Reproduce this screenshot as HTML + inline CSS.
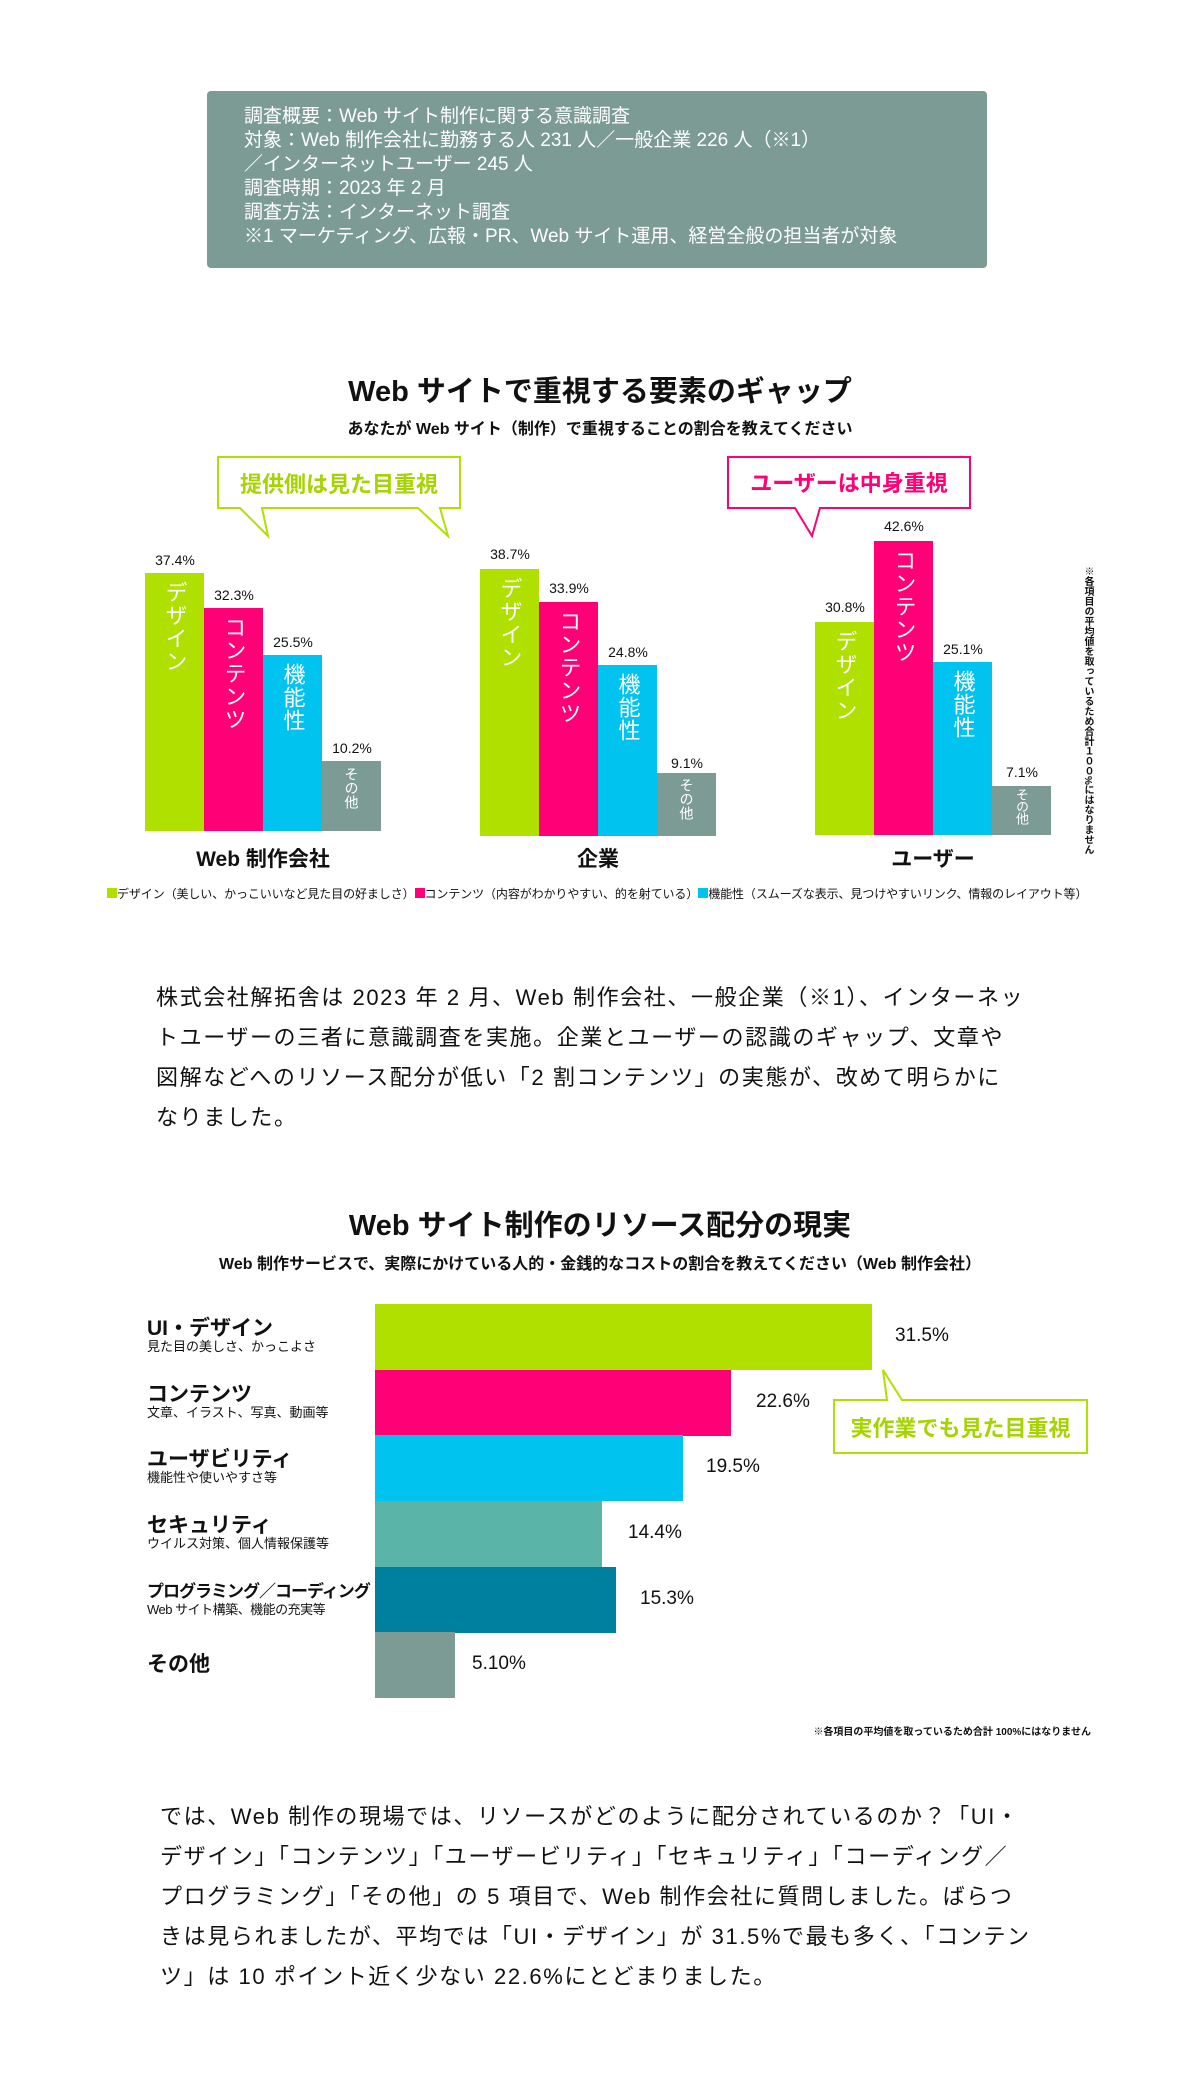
<!DOCTYPE html>
<html><head><meta charset="utf-8"><style>
body{margin:0;width:1200px;height:2086px;background:#fff;position:relative;font-family:"Liberation Sans","Noto Sans CJK JP",sans-serif;color:#111;overflow:hidden}
.a{position:absolute}
.box{left:207px;top:91px;width:780px;height:177px;background:#7b9b94;border-radius:4px;color:#fff;font-size:19px;line-height:24px;box-sizing:border-box;padding:14px 0 0 37px}
.t{left:0;width:1200px;text-align:center;font-weight:bold}
.bar{position:absolute;color:#fff;writing-mode:vertical-rl;text-orientation:upright;font-size:22px;display:flex;align-items:center;padding-top:8px;box-sizing:border-box;letter-spacing:1px;white-space:nowrap}
.v{position:absolute;font-size:14px;text-align:center;width:70px}
.g{background:#b0e000}.p{background:#ff0077}.c{background:#00c4ef}.o{background:#7b9b94}
.para{left:156px;font-size:22px;line-height:40px;white-space:nowrap;letter-spacing:1.6px}
.hb{position:absolute;left:375px;height:66px}
.hv{position:absolute;font-size:19px}
.lab{position:absolute;left:147px;font-size:21px;font-weight:bold;line-height:22px;white-space:nowrap}
.lab small{display:block;font-size:13px;font-weight:normal;line-height:14px}
</style></head><body>
<div class="a box">調査概要：Web サイト制作に関する意識調査<br>対象：Web 制作会社に勤務する人 231 人／一般企業 226 人（※1）<br>／インターネットユーザー 245 人<br>調査時期：2023 年 2 月<br>調査方法：インターネット調査<br>※1 マーケティング、広報・PR、Web サイト運用、経営全般の担当者が対象</div>

<div class="a t" style="top:368px;font-size:29px">Web サイトで重視する要素のギャップ</div>
<div class="a t" style="top:415px;font-size:16px">あなたが Web サイト（制作）で重視することの割合を教えてください</div>

<svg class="a" style="left:0;top:0" width="1200" height="560">
<path d="M218 457 H460 V508 H440 L448 536 L418 508 H262 L268 536 L240 508 H218 Z" fill="#fff" stroke="#b0e000" stroke-width="2"/>
<path d="M728 457 H970 V508 H820 L812 536 L795 508 H728 Z" fill="#fff" stroke="#ff0077" stroke-width="2"/>
</svg>
<div class="a" style="left:218px;top:467px;width:242px;text-align:center;font-weight:bold;font-size:22px;color:#a6d400">提供側は見た目重視</div>
<div class="a" style="left:728px;top:466px;width:242px;text-align:center;font-weight:bold;font-size:22px;color:#ff0077">ユーザーは中身重視</div>

<div class="bar g" style="left:145px;top:573px;width:59px;height:258px">デザイン</div>
<div class="bar p" style="left:204px;top:608px;width:59px;height:223px">コンテンツ</div>
<div class="bar c" style="left:263px;top:655px;width:59px;height:176px">機能性</div>
<div class="bar o" style="left:322px;top:761px;width:59px;height:70px;font-size:14px;padding-top:6px;letter-spacing:0">その他</div>
<div class="v" style="left:140px;top:552px">37.4%</div>
<div class="v" style="left:199px;top:587px">32.3%</div>
<div class="v" style="left:258px;top:634px">25.5%</div>
<div class="v" style="left:317px;top:740px">10.2%</div>

<div class="bar g" style="left:480px;top:569px;width:59px;height:267px">デザイン</div>
<div class="bar p" style="left:539px;top:602px;width:59px;height:234px">コンテンツ</div>
<div class="bar c" style="left:598px;top:665px;width:59px;height:171px">機能性</div>
<div class="bar o" style="left:657px;top:773px;width:59px;height:63px;font-size:14px;padding-top:5px;letter-spacing:0">その他</div>
<div class="v" style="left:475px;top:546px">38.7%</div>
<div class="v" style="left:534px;top:580px">33.9%</div>
<div class="v" style="left:593px;top:644px">24.8%</div>
<div class="v" style="left:652px;top:755px">9.1%</div>

<div class="bar g" style="left:815px;top:622px;width:59px;height:213px">デザイン</div>
<div class="bar p" style="left:874px;top:541px;width:59px;height:294px">コンテンツ</div>
<div class="bar c" style="left:933px;top:662px;width:59px;height:173px">機能性</div>
<div class="bar o" style="left:992px;top:786px;width:59px;height:49px;font-size:13px;padding-top:2px;letter-spacing:-1px;line-height:1">その他</div>
<div class="v" style="left:810px;top:599px">30.8%</div>
<div class="v" style="left:869px;top:518px">42.6%</div>
<div class="v" style="left:928px;top:641px">25.1%</div>
<div class="v" style="left:987px;top:764px">7.1%</div>

<div class="a" style="left:145px;top:843px;width:236px;text-align:center;font-size:21px;font-weight:bold">Web 制作会社</div>
<div class="a" style="left:480px;top:843px;width:236px;text-align:center;font-size:21px;font-weight:bold">企業</div>
<div class="a" style="left:815px;top:843px;width:236px;text-align:center;font-size:21px;font-weight:bold">ユーザー</div>
<div class="a" style="left:1080px;top:566px;writing-mode:vertical-rl;font-size:10px;font-weight:bold">※各項目の平均値を取っているため合計１００%にはなりません</div>
<div class="a" style="left:107px;top:885px;font-size:12px;letter-spacing:-0.1px;white-space:nowrap"><span style="display:inline-block;width:10px;height:10px;background:#b0e000"></span>デザイン（美しい、かっこいいなど見た目の好ましさ）<span style="display:inline-block;width:10px;height:10px;background:#ff0077"></span>コンテンツ（内容がわかりやすい、的を射ている）<span style="display:inline-block;width:10px;height:10px;background:#00c4ef"></span>機能性（スムーズな表示、見つけやすいリンク、情報のレイアウト等）</div>

<div class="a para" style="top:978px">株式会社解拓舎は 2023 年 2 月、Web 制作会社、一般企業（※1）、インターネッ<br>トユーザーの三者に意識調査を実施。企業とユーザーの認識のギャップ、文章や<br>図解などへのリソース配分が低い「2 割コンテンツ」の実態が、改めて明らかに<br>なりました。</div>

<div class="a t" style="top:1202px;font-size:29px">Web サイト制作のリソース配分の現実</div>
<div class="a t" style="top:1250px;font-size:16px">Web 制作サービスで、実際にかけている人的・金銭的なコストの割合を教えてください（Web 制作会社）</div>

<div class="hb g" style="top:1304px;width:497px"></div>
<div class="hb p" style="top:1370px;width:356px"></div>
<div class="hb c" style="top:1435px;width:308px"></div>
<div class="hb" style="top:1501px;width:227px;background:#5ab5a8"></div>
<div class="hb" style="top:1567px;width:241px;background:#00809f"></div>
<div class="hb o" style="top:1632px;width:80px"></div>
<div class="hv" style="left:895px;top:1325px">31.5%</div>
<div class="hv" style="left:756px;top:1391px">22.6%</div>
<div class="hv" style="left:706px;top:1456px">19.5%</div>
<div class="hv" style="left:628px;top:1522px">14.4%</div>
<div class="hv" style="left:640px;top:1588px">15.3%</div>
<div class="hv" style="left:472px;top:1653px">5.10%</div>
<div class="lab" style="top:1318px">UI・デザイン<small>見た目の美しさ、かっこよさ</small></div>
<div class="lab" style="top:1384px">コンテンツ<small>文章、イラスト、写真、動画等</small></div>
<div class="lab" style="top:1449px">ユーザビリティ<small>機能性や使いやすさ等</small></div>
<div class="lab" style="top:1515px">セキュリティ<small>ウイルス対策、個人情報保護等</small></div>
<div class="lab" style="top:1581px;font-size:17px;letter-spacing:-1px">プログラミング／コーディング<small style="letter-spacing:-0.5px">Web サイト構築、機能の充実等</small></div>
<div class="lab" style="top:1654px">その他</div>

<svg class="a" style="left:0;top:1360px" width="1200" height="110">
<path d="M834 40 H887 L883 10 L902 40 H1087 V93 H834 Z" fill="#fff" stroke="#b0e000" stroke-width="2"/>
</svg>
<div class="a" style="left:834px;top:1411px;width:253px;text-align:center;font-weight:bold;font-size:22px;color:#a6d400">実作業でも見た目重視</div>
<div class="a" style="left:700px;top:1723px;width:391px;text-align:right;font-size:10px;font-weight:bold">※各項目の平均値を取っているため合計 100%にはなりません</div>

<div class="a para" style="top:1797px;left:160px">では、Web 制作の現場では、リソースがどのように配分されているのか？「UI・<br>デザイン」「コンテンツ」「ユーザービリティ」「セキュリティ」「コーディング／<br>プログラミング」「その他」の 5 項目で、Web 制作会社に質問しました。ばらつ<br>きは見られましたが、平均では「UI・デザイン」が 31.5%で最も多く、「コンテン<br>ツ」は 10 ポイント近く少ない 22.6%にとどまりました。</div>
</body></html>
